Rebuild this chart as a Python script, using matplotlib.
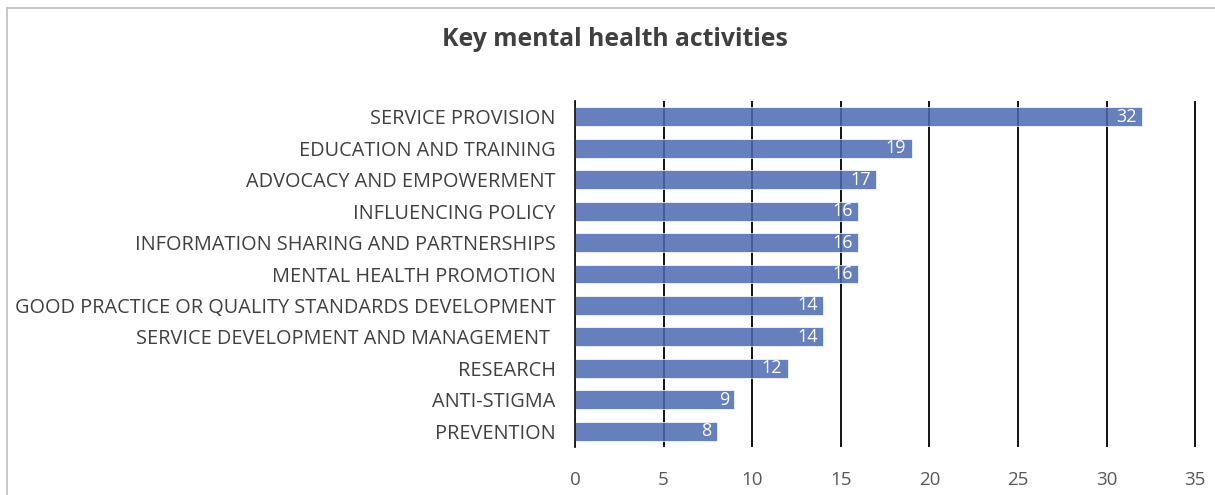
import matplotlib
matplotlib.use("Agg")
import matplotlib.pyplot as plt
from matplotlib.lines import Line2D

categories = [
    "SERVICE PROVISION",
    "EDUCATION AND TRAINING",
    "ADVOCACY AND EMPOWERMENT",
    "INFLUENCING POLICY",
    "INFORMATION SHARING AND PARTNERSHIPS",
    "MENTAL HEALTH PROMOTION",
    "GOOD PRACTICE OR QUALITY STANDARDS DEVELOPMENT",
    "SERVICE DEVELOPMENT AND MANAGEMENT ",
    "RESEARCH",
    "ANTI-STIGMA",
    "PREVENTION",
]
values = [32, 19, 17, 16, 16, 16, 14, 14, 12, 9, 8]
xticks = [0, 5, 10, 15, 20, 25, 30, 35]
title = "Key mental health activities"

plt.rcParams['font.family'] = ['Open Sans', 'DejaVu Sans']

W, H = 1215, 495
fig = plt.figure(figsize=(W / 100, H / 100), dpi=100)
ax = fig.add_axes([575 / W, 1 - 447 / H, (1196 - 575) / W, (447 - 101) / H])

ypos = list(range(len(categories)))
bars = ax.barh(ypos, values, height=0.6, color=(74 / 255, 106 / 255, 178 / 255),
               alpha=0.85, edgecolor='white', linewidth=0.6, zorder=3)
ax.set_ylim(len(categories) - 0.5, -0.5)
ax.set_xlim(0, 35.05)
ax.set_yticks(ypos)
ax.set_yticklabels(categories, fontsize=14.3, color='#404040')
ax.set_xticks(xticks)
ax.set_xticklabels([str(t) for t in xticks], fontsize=13.5, color='#595959')
ax.tick_params(axis='both', length=0)
ax.tick_params(axis='y', pad=14)
ax.tick_params(axis='x', pad=17)

for s in ['top', 'right', 'bottom']:
    ax.spines[s].set_visible(False)
ax.spines['left'].set_color('#1a1a1a')
ax.spines['left'].set_linewidth(1.3)
ax.spines['left'].set_zorder(4)

ax.xaxis.grid(True, color='black', linewidth=1.3, zorder=1)
ax.set_axisbelow(True)

for b, v in zip(bars, values):
    ax.text(b.get_width() - 0.3, b.get_y() + b.get_height() / 2, str(v),
            ha='right', va='center', color='white', fontsize=13, zorder=5)

fig.text(615 / W, 1 - 40 / H, title, ha='center', va='center',
         fontsize=17.8, fontweight='bold', color='#404040')

fig.add_artist(Line2D([7 / W, 7 / W], [0, 1 - 8 / H], color='#bfbfbf', linewidth=1.2))
fig.add_artist(Line2D([7 / W, 1], [1 - 8 / H, 1 - 8 / H], color='#bfbfbf', linewidth=1.2))

fig.savefig("out.png", dpi=100, facecolor='white')
